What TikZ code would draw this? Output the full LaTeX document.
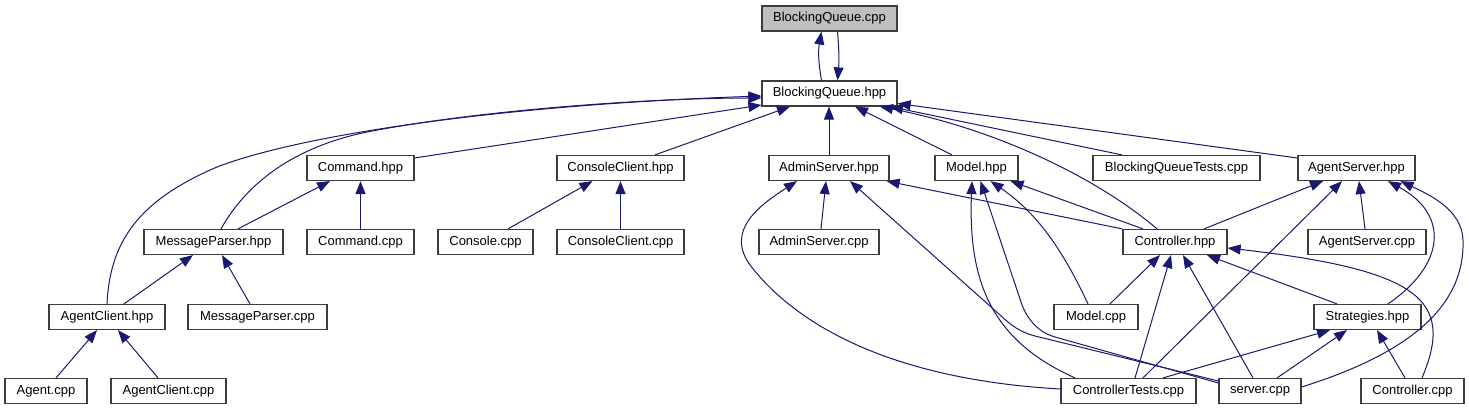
\documentclass[tikz,border=0pt]{standalone}
\usepackage{fontspec}
\setmainfont{Liberation Sans}
\usetikzlibrary{arrows.meta}
\definecolor{edgec}{RGB}{25,25,112}
\definecolor{boxc}{RGB}{60,60,60}
\definecolor{grayfill}{RGB}{191,191,191}
\begin{document}
\begin{tikzpicture}[x=1pt,y=-1pt,
  font=\fontsize{13}{15}\selectfont,
  box/.style={draw=boxc, line width=1.2pt, fill=white, minimum height=25pt, inner sep=0pt, anchor=center},
  edge/.style={draw=edgec, line width=1pt, -{Triangle[length=13pt,width=10pt]}}]
\fill[white] (0,0) rectangle (1469,411);
\useasboundingbox (0,0) rectangle (1469,411);
% row 0/1
\node[box,minimum width=135pt,fill=grayfill] (bqcpp) at (829.5,18.5) {BlockingQueue.cpp};
\node[box,minimum width=135pt] (bqhpp) at (829.5,93.5) {BlockingQueue.hpp};
% row 2
\node[box,minimum width=107pt] (cmdh) at (360.5,168) {Command.hpp};
\node[box,minimum width=127pt] (cch) at (620.5,168) {ConsoleClient.hpp};
\node[box,minimum width=120pt] (ash) at (829,168) {AdminServer.hpp};
\node[box,minimum width=83pt] (modh) at (976.5,168) {Model.hpp};
\node[box,minimum width=167pt] (bqt) at (1176.5,168) {BlockingQueueTests.cpp};
\node[box,minimum width=117pt] (agsh) at (1356.5,168) {AgentServer.hpp};
% row 3
\node[box,minimum width=139pt] (mph) at (213.5,242) {MessageParser.hpp};
\node[box,minimum width=107pt] (cmdc) at (360.5,242) {Command.cpp};
\node[box,minimum width=95pt] (conc) at (485.5,242) {Console.cpp};
\node[box,minimum width=127pt] (ccc) at (620.5,242) {ConsoleClient.cpp};
\node[box,minimum width=120pt] (asc) at (819,242) {AdminServer.cpp};
\node[box,minimum width=104pt] (ctlh) at (1175,242) {Controller.hpp};
\node[box,minimum width=118pt] (agsc) at (1367,242) {AgentServer.cpp};
% row 4
\node[box,minimum width=116pt] (agch) at (107,317) {AgentClient.hpp};
\node[box,minimum width=139pt] (mpc) at (257.5,317) {MessageParser.cpp};
\node[box,minimum width=84pt] (modc) at (1096,317) {Model.cpp};
\node[box,minimum width=107pt] (strh) at (1367.5,317) {Strategies.hpp};
% row 5
\node[box,minimum width=82pt] (agc) at (46,391) {Agent.cpp};
\node[box,minimum width=115pt] (agcc) at (168.5,391) {AgentClient.cpp};
\node[box,minimum width=135pt] (ctc) at (1128.5,391) {ControllerTests.cpp};
\node[box,minimum width=82pt] (srvc) at (1260,391) {server.cpp};
\node[box,minimum width=103pt] (ctlc) at (1412.5,391) {Controller.cpp};

% BlockingQueue.cpp <-> BlockingQueue.hpp
\draw[edge] ([xshift=-8]bqhpp.north) to[out=100,in=-100] ([xshift=-8]bqcpp.south);
\draw[edge] ([xshift=8]bqcpp.south) to[out=-85,in=85] ([xshift=8]bqhpp.north);
% into BlockingQueue.hpp
\draw[edge] (agch.north) .. controls (110,240) and (140,200) .. (217,167) .. controls (300,135) and (500,105) .. ([yshift=-2.5]bqhpp.west);
\draw[edge] ([xshift=7.5]mph.north) .. controls (240,195) and (280,150) .. (367,132) .. controls (480,110) and (650,98) .. ([yshift=-4.5]bqhpp.west);
\draw[edge] ([yshift=10]cmdh.east) -- ([yshift=-11.5]bqhpp.west);
\draw[edge] ([xshift=34.5]cch.north) -- ([xshift=-39.5]bqhpp.south);
\draw[edge] (ash.north) -- (ash.north |- bqhpp.south);
\draw[edge] ([xshift=-24.5]modh.north) -- ([xshift=25.5]bqhpp.south);
\draw[edge] ([xshift=-18]ctlh.north) .. controls (1100,180) and (1000,130) .. ([xshift=50.5]bqhpp.south);
\draw[edge] ([xshift=-54.5]bqt.north) -- ([xshift=60.5]bqhpp.south);
\draw[edge] ([yshift=10]agsh.west) -- ([yshift=-10]bqhpp.east);
% Command / ConsoleClient / MessageParser / AgentClient
\draw[edge] ([xshift=24.5]mph.north) -- ([xshift=-30.5]cmdh.south);
\draw[edge] (cmdc.north) -- (cmdh.south);
\draw[edge] ([xshift=22.5]conc.north) -- ([xshift=-28]cch.south);
\draw[edge] (ccc.north) -- (cch.south);
\draw[edge] ([xshift=17]agch.north) -- ([xshift=-20.5]mph.south);
\draw[edge] ([xshift=-7.5]mpc.north) -- ([xshift=8.5]mph.south);
\draw[edge] ([xshift=10]agc.north) -- ([xshift=-10]agch.south);
\draw[edge] ([xshift=-10.5]agcc.north) -- ([xshift=11]agch.south);
% into AdminServer.hpp
\draw[edge] ([xshift=2]asc.north) -- ([xshift=-3]ash.south);
\draw[edge] (ctlh.north west) -- ([xshift=-3]ash.south east);
\draw[edge] ([yshift=2]ctc.west) .. controls (900,380) and (800,330) .. (750,265) .. controls (725,230) and (760,205) .. ([xshift=-32]ash.south);
\draw[edge] ([yshift=10]srvc.west) -- (1035,336) .. controls (1020,332) and (1012,326) .. (1000,315) -- ([xshift=21]ash.south);
% into Model.hpp
\draw[edge] ([xshift=-32]ctlh.north) -- ([xshift=-8]modh.south east);
\draw[edge] ([xshift=-8]modc.north) .. controls (1065,255) and (1040,215) .. ([xshift=14]modh.south);
\draw[edge] ([xshift=-53.5]ctc.north) .. controls (990,340) and (968,280) .. ([xshift=-4.5]modh.south);
\draw[edge] ([yshift=8]srvc.west) -- (1055,337) .. controls (1038,332) and (1028,320) .. (1022,305) -- ([xshift=4]modh.south);
% into Controller.hpp
\draw[edge] ([xshift=14]modc.north) -- ([xshift=-15]ctlh.south);
\draw[edge] ([xshift=6.5]ctc.north) -- ([xshift=-4]ctlh.south);
\draw[edge] ([xshift=-7]srvc.north) -- ([xshift=8]ctlh.south);
\draw[edge] ([xshift=-30.5]strh.north) -- ([xshift=32]ctlh.south);
\draw[edge] ([xshift=9.5]ctlc.north) .. controls (1455,300) and (1420,270) .. ([yshift=-6]ctlh.east);
% into AgentServer.hpp
\draw[edge] ([xshift=29]ctlh.north) -- ([xshift=-33.5]agsh.south);
\draw[edge] ([xshift=14.5]ctc.north) -- ([xshift=-14.5]agsh.south);
\draw[edge] ([xshift=-2]agsc.north) -- ([xshift=2.5]agsh.south);
\draw[edge] ([xshift=20.5]strh.north) .. controls (1445,265) and (1450,215) .. ([xshift=31.5]agsh.south);
\draw[edge] ([yshift=4]srvc.east) .. controls (1420,350) and (1465,300) .. (1463,240) .. controls (1462,210) and (1430,195) .. ([xshift=44]agsh.south);
% into Strategies.hpp
\draw[edge] ([xshift=34.5]ctc.north) -- ([xshift=-37.5]strh.south);
\draw[edge] ([xshift=17]srvc.north) -- ([xshift=-20.5]strh.south);
\draw[edge] ([xshift=-7.5]ctlc.north) -- ([xshift=9.5]strh.south);
\end{tikzpicture}
\end{document}
